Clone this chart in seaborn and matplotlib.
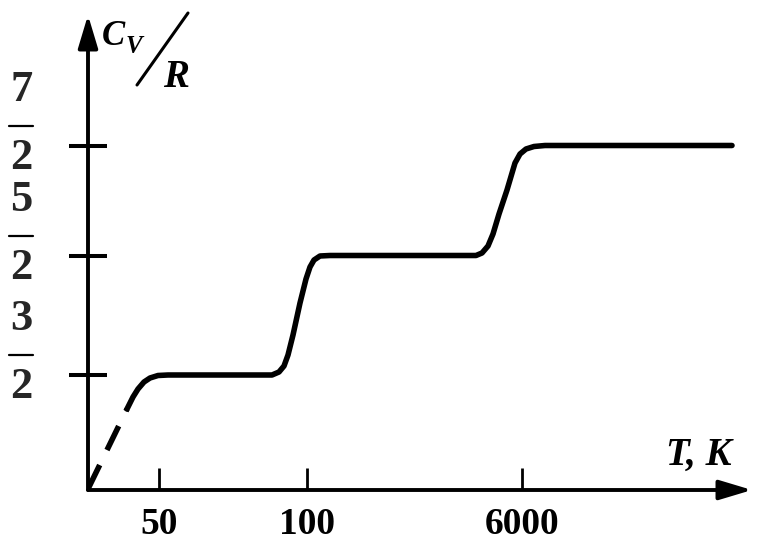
import numpy as np
import pandas as pd
import matplotlib.pyplot as plt
import seaborn as sns
from matplotlib.lines import Line2D

# curva (unidades esquematicas, origen en la esquina de los ejes)
dash_x = [0, 39]
dash_y = [1, 81]
curve_x = [39, 45, 50, 56, 62, 70, 80, 184, 191, 196, 200, 205, 212, 218, 222,
           226, 232, 242, 388, 394, 400, 405, 411, 419, 427, 432, 438, 446, 457, 644]
curve_y = [81, 93, 101, 108, 112, 114.5, 115, 115, 118, 124, 135, 155, 187, 211, 223,
           230, 234, 234.5, 234.5, 237, 244, 256, 276, 300, 327, 336, 341, 343.5, 344.5, 344.5]

x_ticks = [71, 219, 434]
x_labels = ["50", "100", "6000"]
y_ticks = [115, 234, 344]
y_num = ["3", "5", "7"]
y_den = ["2", "2", "2"]

sns.set_style("white")
plt.rcParams["font.family"] = ["Liberation Serif", "DejaVu Serif"]

fig = plt.figure(figsize=(7.69, 5.5), dpi=100)
ax = fig.add_axes([88 / 769, 60 / 550, 664 / 769, 475 / 550])
ax.set_xlim(0, 664)
ax.set_ylim(0, 475)
for s in ax.spines.values():
    s.set_visible(False)

# ejes con flecha
arr = dict(arrowstyle="-|>,head_length=1.0,head_width=0.3", mutation_scale=20,
           lw=2.8, color="black", shrinkA=0, shrinkB=0)
ax.annotate("", xy=(1, 0), xytext=(0, 0), xycoords="axes fraction", arrowprops=arr)
ax.annotate("", xy=(0, 1), xytext=(0, 0), xycoords="axes fraction", arrowprops=arr)

sns.lineplot(x=dash_x, y=dash_y, ax=ax, color="black", lw=4, linestyle=(0, (4.8, 3.0)))
sns.lineplot(x=curve_x, y=curve_y, ax=ax, color="black", lw=4, sort=False,
             solid_joinstyle="round", solid_capstyle="round")

ax.set_xticks(x_ticks)
ax.set_xticklabels(x_labels, fontsize=27, fontweight="bold")
ax.tick_params(axis="x", bottom=True, direction="in", length=16, width=2, pad=12,
               colors="black")

# fracciones del eje y: denominador, raya y numerador
ax.set_yticks(y_ticks)
ax.set_yticklabels([""] * len(y_ticks))
ax.tick_params(axis="y", left=True, direction="inout", length=27, width=2.9,
               colors="black")

ytr = ax.get_yaxis_transform()
for yv, n, d in zip(y_ticks, y_num, y_den):
    ax.text(-0.1, yv + 56, n, transform=ytr, fontsize=32, fontweight="bold",
            ha="center", va="center")
    ax.add_line(Line2D([-0.119, -0.083], [yv + 20, yv + 20], transform=ytr,
                       color="black", lw=1.6, clip_on=False))
    ax.text(-0.1, yv - 12, d, transform=ytr, fontsize=32, fontweight="bold",
            ha="center", va="center")

# etiquetas de los ejes
bi = dict(fontweight="bold", fontstyle="italic", color="black")
ax.text(14, 445, "C", fontsize=25, ha="left", va="baseline", **bi)
ax.text(38, 437, "V", fontsize=18, ha="left", va="baseline", **bi)
ax.add_line(Line2D([49, 100], [405, 477], color="black", lw=2.2, clip_on=False))
ax.text(75, 403, "R", fontsize=28, ha="left", va="baseline", **bi)
ax.text(644, 25, "T, K", fontsize=28, ha="right", va="baseline", **bi)

fig.savefig("out.png", dpi=100)
